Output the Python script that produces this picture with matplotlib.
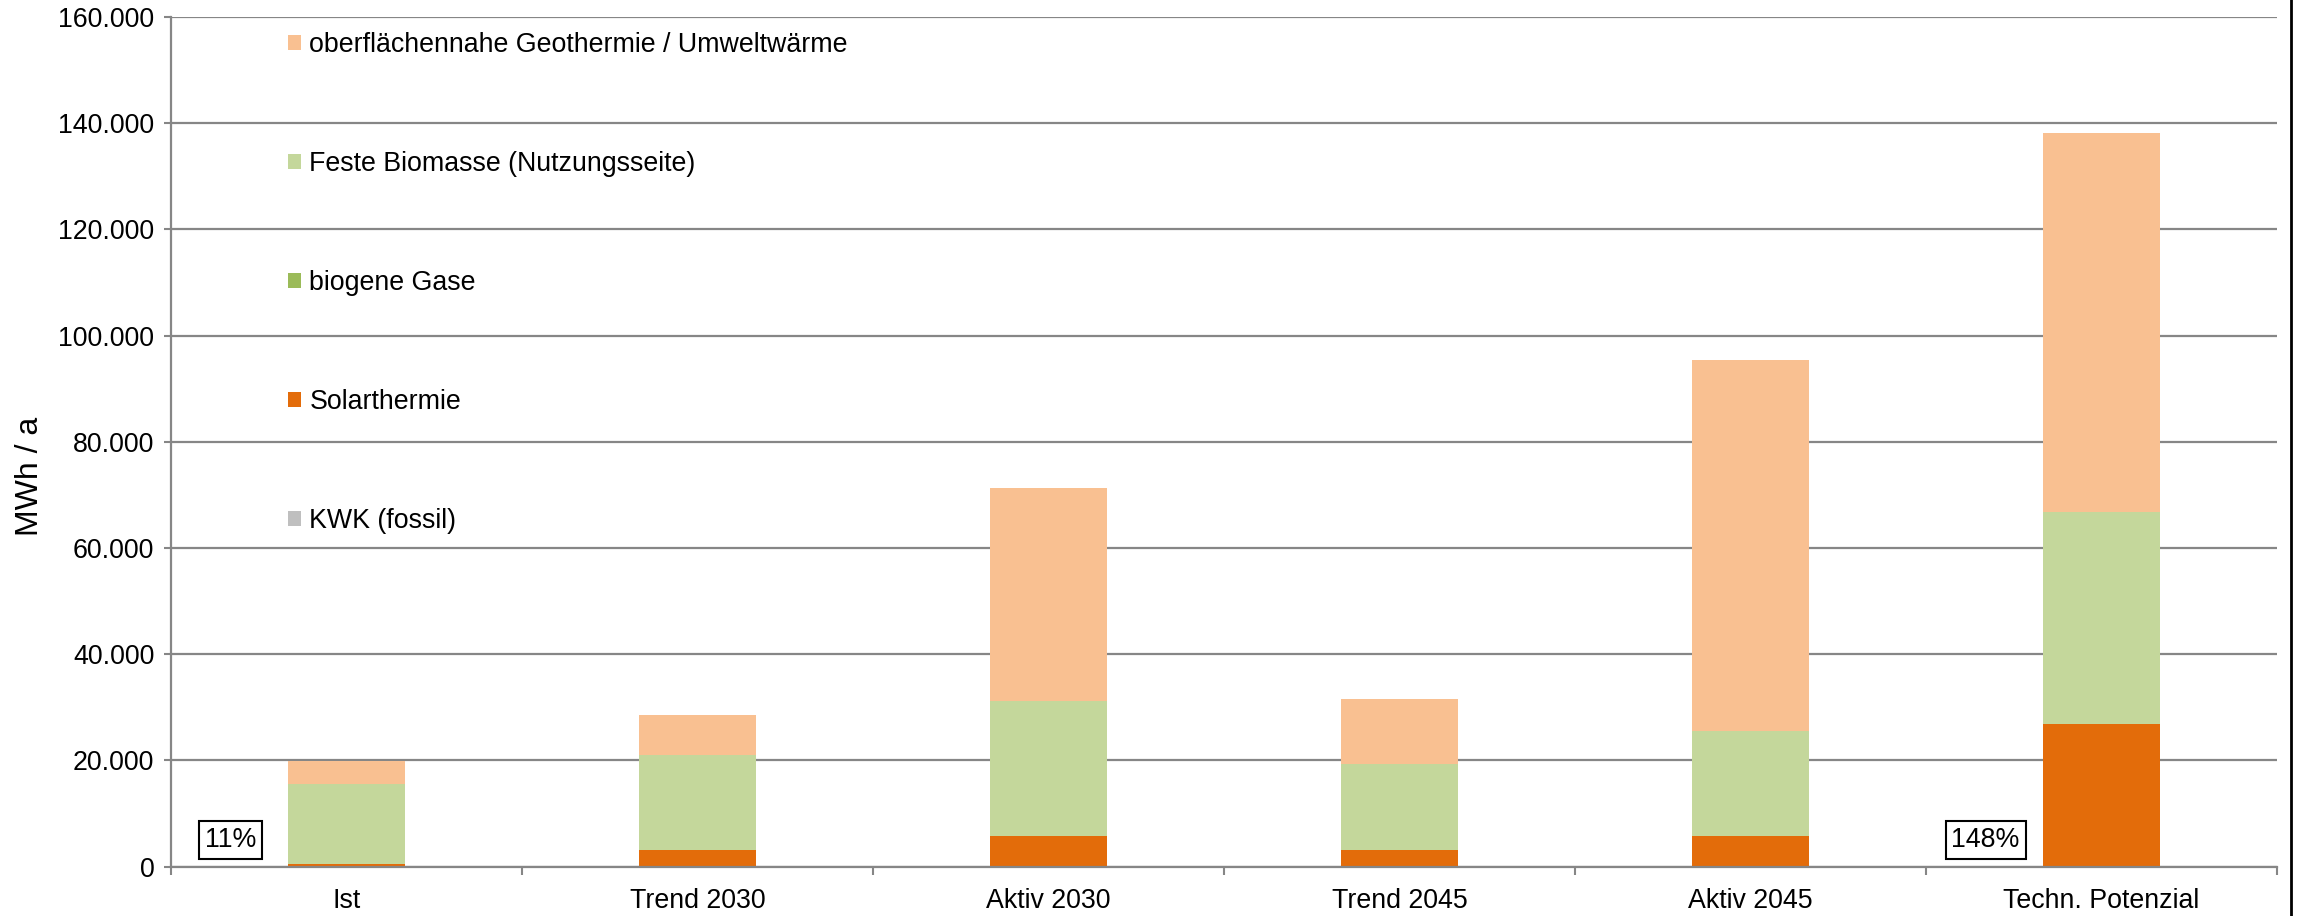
import matplotlib
matplotlib.use("Agg")
import matplotlib.pyplot as plt
from matplotlib.patches import Patch
from matplotlib.lines import Line2D
from matplotlib.ticker import FuncFormatter, MultipleLocator
import numpy as np

plt.rcParams['font.family'] = ['Liberation Sans', 'DejaVu Sans']

szenarien = ['Ist', 'Trend 2030', 'Aktiv 2030', 'Trend 2045', 'Aktiv 2045', 'Techn. Potenzial']

# MWh/a je Energieträger (von unten nach oben gestapelt)
kwk_fossil = [0, 0, 0, 0, 0, 0]
solarthermie = [500, 3200, 5850, 3200, 5800, 26800]
biogene_gase = [0, 0, 0, 0, 0, 0]
feste_biomasse = [15100, 17800, 25350, 16200, 19750, 39900]
geothermie_umwelt = [4300, 7600, 40100, 12100, 69850, 71500]

anteil_labels = {0: '11%', 5: '148%'}

reihen = [
    ('KWK (fossil)', kwk_fossil, '#BFBFBF'),
    ('Solarthermie', solarthermie, '#E36C0A'),
    ('biogene Gase', biogene_gase, '#9BBB59'),
    ('Feste Biomasse (Nutzungsseite)', feste_biomasse, '#C4D79B'),
    ('oberflächennahe Geothermie / Umweltwärme', geothermie_umwelt, '#F9C091'),
]

fs = 19.3
grau = '#868686'

fig = plt.figure(figsize=(22.98, 9.16), dpi=100)
ax = fig.add_axes([171 / 2298, 49.3 / 916, (2277 - 171) / 2298, (866.7 - 17) / 916])

x = np.arange(len(szenarien))
unten = np.zeros(len(szenarien))
handles = []
for name, werte, farbe in reihen:
    ax.bar(x, werte, width=0.333, bottom=unten, color=farbe, zorder=3)
    unten += np.array(werte)
    handles.append(Patch(facecolor=farbe, label=name))

ax.set_xlim(-0.5, len(szenarien) - 0.5)
ax.set_ylim(0, 160000)
ax.yaxis.set_major_locator(MultipleLocator(20000))
ax.yaxis.set_major_formatter(FuncFormatter(lambda v, p: f"{int(v):,}".replace(',', '.')))
ax.grid(axis='y', color=grau, linewidth=1.6, zorder=0)

ax.set_xticks(x)
ax.set_xticklabels(szenarien)
ax.set_xticks(np.arange(-0.5, len(szenarien)), minor=True)
ax.tick_params(axis='x', which='major', length=0, pad=15, labelsize=fs)
ax.tick_params(axis='x', which='minor', length=5.5, width=1.5, color=grau)
ax.tick_params(axis='y', length=5, width=1.5, color=grau, pad=7, labelsize=fs)

for s in ['top', 'right']:
    ax.spines[s].set_visible(False)
for s in ['left', 'bottom']:
    ax.spines[s].set_color(grau)
    ax.spines[s].set_linewidth(1.6)
    ax.spines[s].set_zorder(4)

fig.text(30 / 2298, 1 - 476 / 916, 'MWh / a', rotation=90, fontsize=23,
         ha='center', va='center')

for i, txt in anteil_labels.items():
    ax.text(i - 0.33, 5100, txt, fontsize=fs, ha='center', va='center', zorder=5,
            bbox=dict(boxstyle='square,pad=0.22', facecolor='white',
                      edgecolor='black', linewidth=1.5))

leg = ax.legend(handles=handles[::-1], loc='upper left',
                bbox_to_anchor=(288 / 2298, 1 - 32 / 916),
                bbox_transform=fig.transFigure, frameon=False, fontsize=fs,
                handlelength=0.5, handleheight=0.5, handletextpad=0.3,
                labelspacing=3.47, borderpad=0, borderaxespad=0)

# senkrechte Rahmenlinie am rechten Rand
fig.add_artist(Line2D([2291 / 2298, 2291 / 2298], [0, 1], color='black',
                      linewidth=2, transform=fig.transFigure))

fig.savefig('out.png', dpi=100)
